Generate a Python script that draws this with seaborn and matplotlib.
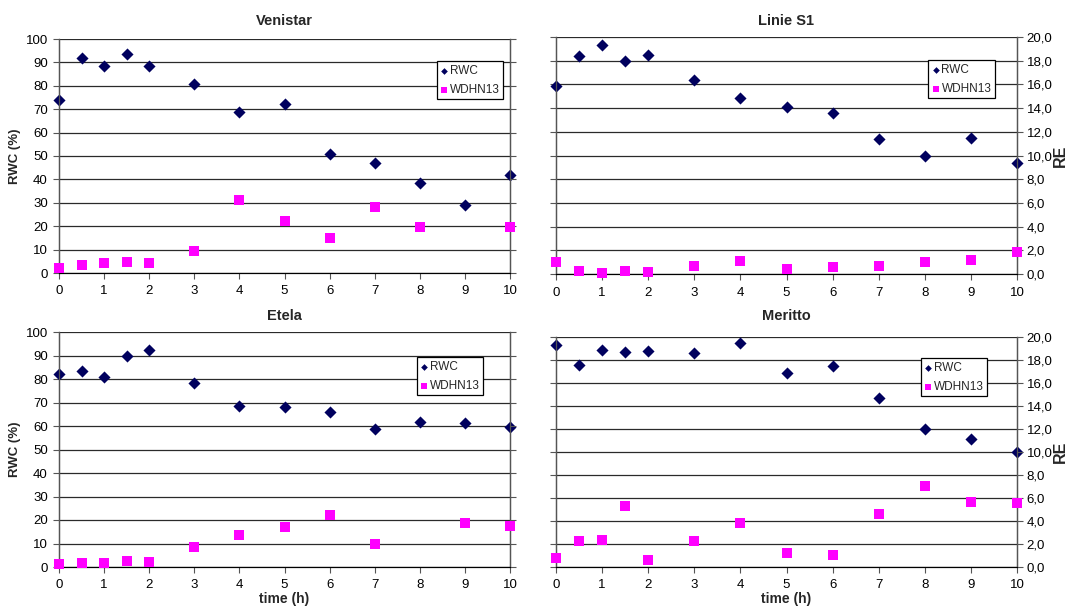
import matplotlib
matplotlib.use("Agg")
import matplotlib.pyplot as plt
from matplotlib.ticker import FuncFormatter, MultipleLocator
import seaborn as sns

# time points (h)
time_h = [0, 0.5, 1, 1.5, 2, 3, 4, 5, 6, 7, 8, 9, 10]

# RWC (%) per cultivar
rwc_venistar = [74, 92, 88.3, 93.6, 88.3, 80.6, 69, 72.3, 51, 47.2, 38.4, 29.2, 41.8]
rwc_linie = [79.4, 92, 96.5, 90, 92.4, 81.9, 74.4, 70.6, 68.1, 56.9, 50, 57.3, 46.9]
rwc_etela = [82.3, 83.4, 80.7, 89.9, 92.5, 78.2, 68.4, 67.9, 66.1, 58.6, 61.7, 61.1, 59.4]
rwc_meritto = [96.4, 88, 94.5, 93.6, 94.1, 93, 97.2, 84.5, 87.5, 73.3, 59.9, 55.7, 50]

# WDHN13 relative expression (RE); None = no measurement
re_venistar = [0.4, 0.66, 0.83, 0.97, 0.88, 1.88, 6.2, 4.45, 3.02, 5.65, 3.9, None, 3.9]
re_linie = [0.98, 0.25, 0.06, 0.25, 0.14, 0.7, 1.07, 0.42, 0.62, 0.7, 0.98, 1.15, 1.88]
re_etela = [0.26, 0.37, 0.31, 0.48, 0.40, 1.73, 2.72, 3.4, 4.45, 1.96, None, 3.77, 3.49]
re_meritto = [0.78, 2.26, 2.35, 5.33, 0.64, 2.26, 3.86, 1.25, 1.01, 4.64, 7.04, 5.62, 5.59]

titles = ["Venistar", "Linie S1", "Etela", "Meritto"]
rwc_all = [rwc_venistar, rwc_linie, rwc_etela, rwc_meritto]
re_all = [re_venistar, re_linie, re_etela, re_meritto]

sns.set_style("white")
plt.rcParams["font.family"] = ["Liberation Sans", "DejaVu Sans"]

W, H = 1088, 606
fig = plt.figure(figsize=(W / 100, H / 100), dpi=100)

# axes rectangles in pixels: left, top, right, bottom
rects = [(59, 39, 510, 273), (556, 37, 1017, 274),
         (59, 332, 510, 567), (556, 337, 1017, 567)]
title_y = [21, 21, 316, 316]
legend_anchor = [(0.985, 0.905), (0.952, 0.902), (0.94, 0.893), (0.935, 0.908)]

navy = "#00005E"
magenta = "#FF00FF"
grid_c = "#2a2a2a"

for i, (l, t, r, b) in enumerate(rects):
    ax = fig.add_axes([l / W, 1 - b / H, (r - l) / W, (b - t) / H])
    tw = ax.twinx()
    x_re = [x for x, v in zip(time_h, re_all[i]) if v is not None]
    y_re = [v for v in re_all[i] if v is not None]

    sns.scatterplot(x=time_h, y=rwc_all[i], ax=ax, marker="D", color=navy,
                    s=38, edgecolor=navy, linewidth=0, label="RWC", legend=False, zorder=5)
    sns.scatterplot(x=x_re, y=y_re, ax=tw, marker="s", color=magenta,
                    s=55, edgecolor=magenta, linewidth=0, label="WDHN13", legend=False, zorder=5)
    for a in (ax, tw):
        for c in a.collections:
            c.set_clip_on(False)

    ax.set_xlim(0, 10)
    ax.set_ylim(0, 100)
    tw.set_ylim(0, 20)
    ax.xaxis.set_major_locator(MultipleLocator(1))
    ax.yaxis.set_major_locator(MultipleLocator(10))
    tw.yaxis.set_major_locator(MultipleLocator(2))
    tw.yaxis.set_major_formatter(FuncFormatter(lambda v, p: f"{v:.1f}".replace(".", ",")))

    ax.grid(axis="y", color=grid_c, linewidth=0.9)
    ax.grid(axis="x", visible=False)
    for a in (ax, tw):
        a.spines["top"].set_visible(False)
        a.spines["left"].set_color("#555555")
        a.spines["right"].set_color("#555555")
        a.spines["bottom"].set_color("black")
        a.spines["left"].set_linewidth(0.9)
        a.spines["right"].set_linewidth(0.9)
    ax.tick_params(axis="y", direction="out", length=4, width=0.8,
                   colors="#555555", labelcolor="black", labelsize=9.5, pad=4, left=True)
    ax.tick_params(axis="x", direction="out", length=4, width=0.8,
                   colors="#555555", labelcolor="black", labelsize=9.5, pad=5, bottom=True)
    tw.tick_params(axis="y", direction="out", length=4, width=0.8,
                   colors="#555555", labelcolor="black", labelsize=9.5, pad=3, right=True)

    if i % 2 == 0:
        tw.tick_params(axis="y", labelright=False)
        ax.set_ylabel("RWC (%)", fontsize=9.5, fontweight="bold", labelpad=3)
    else:
        ax.tick_params(axis="y", labelleft=False)
        tw.set_ylabel("RE", fontsize=11.5, fontweight="bold", labelpad=0)
    ax.set_xlabel("time (h)" if i >= 2 else "", fontsize=10, fontweight="bold", labelpad=0)

    fig.text((l + r) / 2 / W, 1 - title_y[i] / H, titles[i], ha="center", va="center",
             fontsize=10.5, fontweight="bold")

    h1, l1 = ax.get_legend_handles_labels()
    h2, l2 = tw.get_legend_handles_labels()
    leg = tw.legend(h1 + h2, l1 + l2, loc="upper right", bbox_to_anchor=legend_anchor[i],
                    fontsize=8.5, frameon=True, fancybox=False, framealpha=1,
                    edgecolor="black", markerscale=0.55, handlelength=0.6,
                    handletextpad=0.2, borderpad=0.3, labelspacing=0.6,
                    borderaxespad=0)
    leg.get_frame().set_linewidth(0.9)

fig.savefig("out.png", dpi=100)
